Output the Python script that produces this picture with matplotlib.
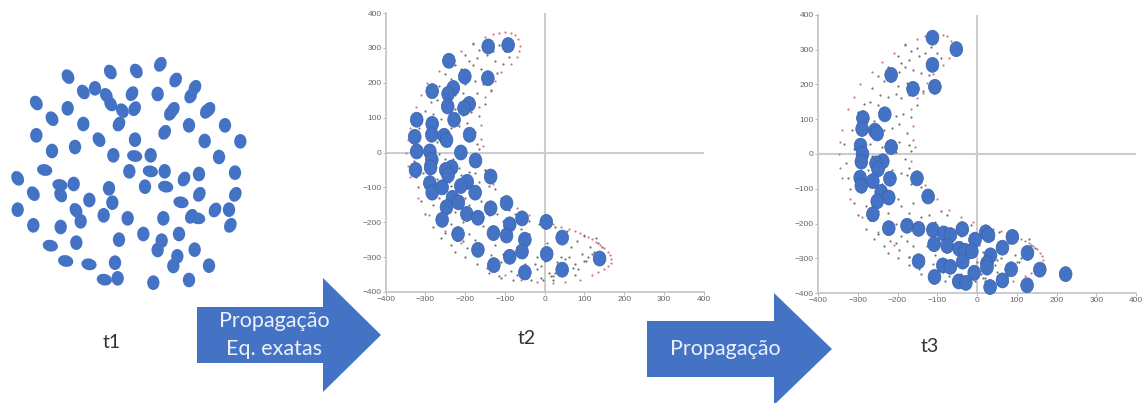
import matplotlib
matplotlib.use("Agg")
import matplotlib.pyplot as plt
from matplotlib.patches import Ellipse, Polygon

W, H = 1142, 403
BLUE = "#4472C4"
EDGE = "#3A62AC"

# t1 cloud: x, y (image scale 3x), tilt of long axis
t1_x = [204,331,409,481,527,585,572,250,285,319,332,396,473,109,203,367,404,520,511,627,619,156,250,357,567,675,494,109,297,405,614,721,156,225,340,404,452,657,134,388,451,494,597,705,53,552,180,221,327,435,497,100,182,598,706,268,337,543,53,228,311,383,490,574,593,645,687,242,100,182,691,430,537,357,229,151,485,473,584,532,520,197,267,345,627,313,353,567,460]
t1_y = [110,96,93,73,120,142,168,156,145,166,192,161,162,189,205,212,206,208,220,208,214,236,252,252,256,256,277,286,299,299,303,304,333,321,346,348,346,351,390,394,394,394,402,398,415,417,435,432,445,440,440,461,465,463,463,480,488,487,509,511,526,535,535,529,535,510,509,544,556,561,556,582,582,599,608,617,602,630,629,649,678,663,673,668,677,719,715,720,728]
t1_tilt = list("lllrrrrlvllrvlvlrrrrrlvrvvrvlvvvvvvhvvhvhvvvlrhvvvhllrrvvhvlvvvrhrvvvvrvvvvhvvvvvhhvvhvvv")

# t2 particles
t2_x = [-142,-92,-241,-201,-143,-283,-230,-243,-190,-203,-244,-228,-322,-283,-284,-327,-189,-253,-247,-322,-289,-211,-284,-174,-287,-325,-234,-249,-243,-136,-289,-195,-211,-258,-283,-175,-232,-217,-247,-96,-136,-196,-168,-258,-57,4,-88,-218,-129,-96,44,-50,-168,-57,5,-88,138,-128,44,-50]
t2_y = [304,308,263,218,213,176,185,168,139,127,132,94,94,82,51,45,51,48,36,3,3,0,-21,-23,-43,-50,-43,-50,-65,-69,-88,-84,-96,-100,-115,-115,-130,-143,-157,-145,-160,-176,-187,-193,-189,-199,-206,-234,-231,-238,-244,-250,-279,-284,-291,-299,-304,-323,-336,-344]

# t3 particles
t3_x = [-112,-52,-112,-216,-106,-161,-232,-287,-289,-257,-251,-293,-216,-288,-291,-237,-254,-249,-294,-219,-151,-262,-291,-241,-222,-123,-251,-262,-222,-176,-147,-111,-37,-84,-67,22,29,-5,89,-108,-75,64,-45,-30,-13,127,34,-36,-147,25,25,-86,-67,86,158,223,-7,-107,64,-46,-28,126,33]
t3_y = [334,301,256,227,193,187,114,103,72,67,59,24,20,0,-22,-21,-27,-44,-68,-71,-70,-78,-91,-109,-125,-122,-136,-173,-213,-206,-215,-218,-216,-228,-233,-225,-233,-246,-238,-259,-264,-269,-272,-278,-279,-284,-291,-309,-308,-314,-326,-320,-324,-331,-332,-345,-341,-353,-363,-366,-370,-377,-382]

# pink outline of the region
edge_x = [-345,-340,-325,-310,-295,-265,-240,-210,-180,-150,-130,-115,-100,-85,-75,-66,-62,-64,-70,-85,-110,-125,-135,-150,-165,-160,-160,-155,-165,-150,-130,-100,-70,-40,-10,20,40,60,75,90,100,110,120,130,140,150,158,164,167,166,160,150,135,120,90,50,20,-20,-60,-100,-140,-170,-210,-250,-290,-320,-340,-345,-348]
edge_y = [35,70,130,165,200,235,265,290,315,330,340,343,345,343,338,325,305,290,275,255,230,205,175,160,130,80,40,20,-20,-50,-90,-130,-160,-180,-195,-205,-215,-220,-226,-232,-237,-243,-249,-256,-264,-274,-284,-294,-304,-316,-326,-335,-343,-350,-365,-372,-375,-372,-365,-350,-320,-295,-260,-225,-180,-130,-70,-40,0]

# small grey samples inside the region
dot_x = [-180,-165,-150,-130,-115,-100,-90,-200,-190,-170,-145,-125,-105,-225,-210,-195,-180,-160,-140,-120,-250,-235,-215,-200,-175,-155,-135,-265,-245,-225,-205,-190,-170,-150,-285,-270,-250,-225,-205,-185,-165,-300,-280,-260,-235,-215,-195,-175,-315,-295,-270,-240,-220,-195,-170,-335,-310,-285,-265,-230,-205,-180,-165,-330,-300,-275,-250,-215,-190,-170,-325,-305,-270,-240,-210,-175,-150,-320,-290,-265,-235,-200,-165,-140,-310,-280,-250,-225,-190,-160,-125,-300,-270,-235,-205,-170,-140,-110,-280,-250,-220,-190,-155,-120,-90,-260,-235,-205,-175,-140,-105,-75,-225,-195,-160,-125,-95,-60,-40,-200,-170,-135,-105,-70,-40,-15,-170,-145,-110,-80,-50,-20,5,25,-140,-115,-85,-50,-25,0,15,40,55,-110,-80,-45,-20,10,30,60,80,100,-70,-40,-10,20,45,70,95,115,130,-35,-5,25,50,75,100,120,145,-10,15,40,65,85,110,135,20,50,75,105,125]
dot_y = [312,295,305,290,308,290,275,280,262,270,280,262,255,250,240,235,250,240,232,228,225,210,212,195,205,195,180,190,170,165,172,160,170,140,145,150,140,125,108,115,105,120,110,95,70,75,85,60,70,60,30,20,10,35,25,30,15,20,-5,-20,5,-15,10,-25,-30,-45,-20,-45,-55,-40,-70,-60,-75,-85,-65,-60,-50,-100,-110,-130,-95,-130,-85,-95,-140,-150,-165,-170,-150,-140,-105,-175,-190,-205,-200,-170,-180,-130,-215,-230,-250,-235,-210,-175,-165,-245,-265,-255,-250,-225,-195,-175,-285,-275,-265,-265,-250,-220,-195,-300,-295,-295,-290,-270,-235,-205,-320,-330,-315,-310,-320,-300,-260,-215,-345,-355,-340,-350,-320,-310,-280,-245,-225,-360,-365,-360,-335,-345,-315,-300,-255,-240,-350,-345,-360,-355,-320,-330,-290,-270,-245,-365,-365,-345,-305,-350,-310,-290,-270,-325,-355,-300,-270,-335,-300,-260,-365,-340,-320,-310,-285]

ticks = [-400, -300, -200, -100, 0, 100, 200, 300, 400]

# arrows
arrow1 = [(197,307),(323,307),(323,278),(381,335),(323,392),(323,363),(197,363)]
arrow2 = [(647,321),(774,321),(774,293),(832,349),(774,405),(774,377),(647,377)]


def px_axes(x0, y_top, x1, y_bot):
    return fig.add_axes([x0 / W, 1 - y_bot / H, (x1 - x0) / W, (y_bot - y_top) / H])


plt.rcParams["font.family"] = ["Lato", "DejaVu Sans"]
fig = plt.figure(figsize=(W / 100, H / 100), dpi=100)

over = fig.add_axes([0, 0, 1, 1], zorder=0)
over.set_xlim(0, W)
over.set_ylim(H, 0)
over.axis("off")
for pts in (arrow1, arrow2):
    over.add_patch(Polygon(pts, closed=True, fc=BLUE, ec="none"))
ARROW_TXT = dict(color="#EDF2FA", fontsize=15.5, ha="center", va="center")
over.text(274, 321, "Propagação", **ARROW_TXT)
over.text(274, 349, "Eq. exatas", **ARROW_TXT)
over.text(725, 349, "Propagação", **ARROW_TXT)
for x, y, s in [(112, 342, "t1"), (527, 339, "t2"), (930, 346, "t3")]:
    over.text(x, y, s, color="#333333", fontsize=14, ha="center", va="center")

# t1
a1 = px_axes(0, 40, 260, 300)
a1.set_xlim(0, 780)
a1.set_ylim(780, 0)
a1.axis("off")
a1.patch.set_alpha(0)
ANG = {"v": (90, 37, 44), "l": (118, 36, 46), "r": (65, 36, 46), "h": (168, 35, 46)}
for x, y, k in zip(t1_x, t1_y, t1_tilt):
    ang, w, h = ANG[k]
    a1.add_patch(Ellipse((x, y), h, w, angle=-ang, fc=BLUE, ec="none"))


def panel(box, xs, ys):
    ax = px_axes(*box)
    ax.patch.set_alpha(0)
    ax.set_xlim(-400, 400)
    ax.set_ylim(-400, 400)
    ax.set_xticks(ticks)
    ax.set_yticks(ticks)
    ax.tick_params(labelsize=6, length=2.5, width=0.6, color="#AAAAAA", labelcolor="#666666", pad=0.5)
    for lab in ax.get_xticklabels() + ax.get_yticklabels():
        lab.set_family("Liberation Sans")
    for s in ("top", "right"):
        ax.spines[s].set_visible(False)
    for s in ("left", "bottom"):
        ax.spines[s].set_color("#C4C4C4")
        ax.spines[s].set_linewidth(1.2)
    ax.axhline(0, color="#CCCCCC", lw=1.5, zorder=1)
    ax.axvline(0, color="#CCCCCC", lw=1.5, zorder=1)
    ax.scatter(edge_x, edge_y, s=2.5, c="#D5738C", linewidths=0, zorder=2)
    ax.scatter(dot_x, dot_y, s=2.5, c="#707070", linewidths=0, zorder=2)
    for x, y in zip(xs, ys):
        ax.add_patch(Ellipse((x, y), 32, 43, fc=BLUE, ec=EDGE, lw=0.5, zorder=3, clip_on=False))


panel((385.7, 13, 703.7, 292), t2_x, t2_y)
panel((818, 14.7, 1136, 293.3), t3_x, t3_y)

fig.savefig("out.png", dpi=100)
